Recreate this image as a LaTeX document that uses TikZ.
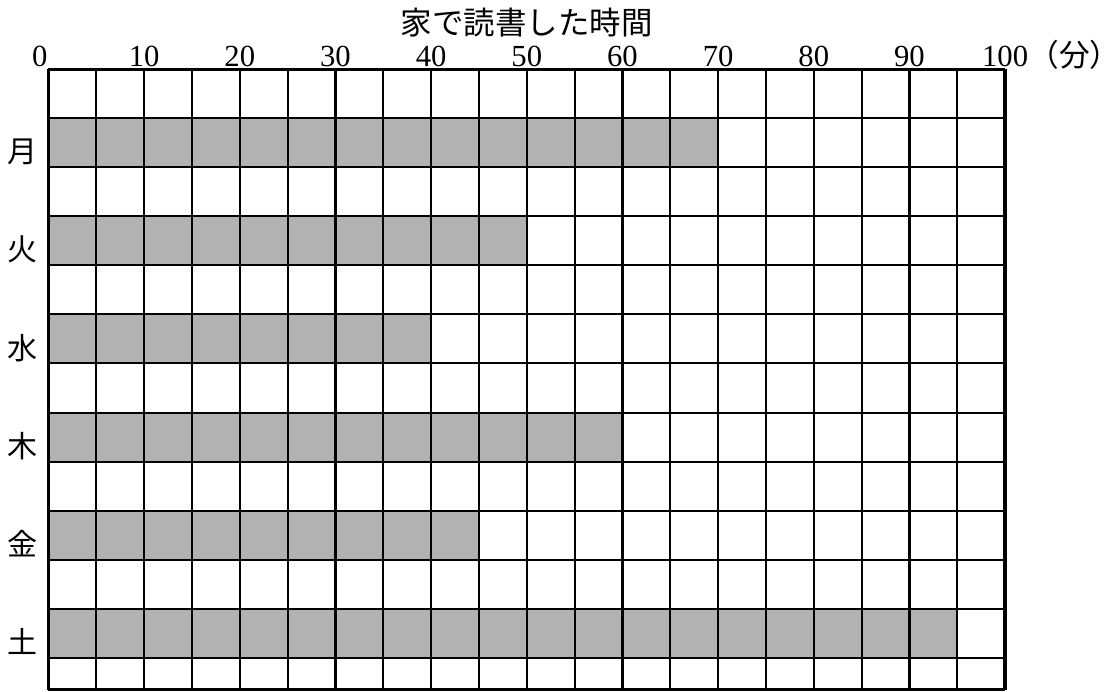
\documentclass[tikz,border=0pt]{standalone}
\usepackage{fontspec}
\setmainfont{Liberation Serif}
\newfontfamily\jafont{Noto Sans CJK JP}
\usetikzlibrary{positioning}
\tikzset{
  thinline/.style={line width=1.5pt},
  boldline/.style={line width=2.6pt},
  edgeline/.style={line width=2pt},
  bar/.style={fill=black!30},
  minlabel/.style={anchor=base,inner sep=0pt,font=\fontsize{23}{27}\selectfont},
  day/.style={inner sep=0pt,font=\jafont\fontsize{22.5}{27}\selectfont},
  unitlabel/.style={inner sep=0pt,font=\jafont\fontsize{23}{27}\selectfont},
}
\begin{document}
\begin{tikzpicture}[x=35.87pt,y=-36.75pt]
  \useasboundingbox (-1.014,-1.418) rectangle (22.382,12.684);
  \foreach \r/\n/\d in {1/14/月,3/10/火,5/8/水,7/12/木,9/9/金,11/19/土}
  {
   \fill[bar] (0,\r) rectangle (\n,\r+1);
   \node[day] (day\r) at (-0.554,\r+0.68) {\d};
  }
  \foreach \y in {1,...,12}
      \draw[thinline] (0,\y) -- (20,\y);
  \foreach \x in {1,...,19}
      \draw[thinline] (\x,0) -- (\x,12.65);
  \draw[edgeline] (0,0) -- (20,0);
  \draw[edgeline] (0,12.65) -- (20,12.65);
  \foreach \x in {0,6,12,18,20}
      \draw[boldline] (\x,-0.02) -- (\x,12.67);

  \node[minlabel] (m0) at (-0.18,-0.07) {0};
  \foreach \m in {10,20,...,100}
      \node[minlabel] (m\m) at (\m/5,-0.07) {\m};
  \node[unitlabel, base right=0pt of m100] (unit) {（分）};
  \node[day, font=\jafont\fontsize{23.6}{28}\selectfont] (title) at (10,-0.959) {家で読書した時間};
\end{tikzpicture}
\end{document}
